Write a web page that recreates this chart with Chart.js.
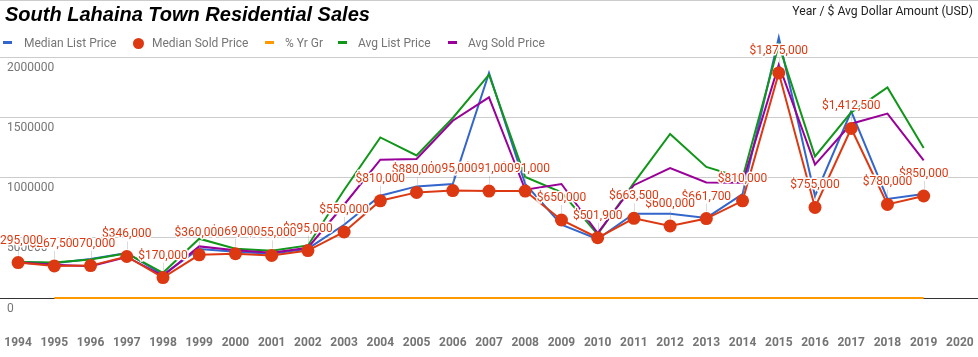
<!DOCTYPE html>
<html>
<head>
<meta charset="utf-8">
<script src="https://cdn.jsdelivr.net/npm/chart.js@4.4.1/dist/chart.umd.min.js"></script>
<style>
  html, body { margin:0; padding:0; background:#fff; }
  #wrap { position:relative; width:978px; height:357px; overflow:hidden; }
  canvas { position:absolute; left:0; top:0; }
  .ov { position:absolute; white-space:nowrap; }
  #title { left:5px; top:3px; font:italic bold 20px "Liberation Sans", Arial, sans-serif; color:#000; }
  #sub { right:5px; top:4px; font:12.2px Roboto, sans-serif; color:#222; }
  .lg { position:absolute; top:36px; font:12px Roboto, sans-serif; color:#757575; line-height:14px; }
  .mk { position:absolute; }
</style>
</head>
<body>
<div id="wrap">
  <canvas id="c" width="978" height="357"></canvas>
  <div id="title" class="ov">South Lahaina Town Residential Sales</div>
  <div id="sub" class="ov">Year / $ Avg Dollar Amount (USD)</div>
  <div id="legend"></div>
</div>
<script>
// ---- data ----
const years = ['1994','1995','1996','1997','1998','1999','2000','2001','2002','2003','2004','2005','2006','2007','2008','2009','2010','2011','2012','2013','2014','2015','2016','2017','2018','2019','2020'];
const medianListPrice = [300000,290000,325000,375000,195000,408000,386000,369000,411000,610000,852000,930000,950000,1875000,950000,611000,490000,702000,702000,667000,865000,2170000,850000,1555000,825000,867000,null];
const medianSoldPrice = [295000,267500,270000,346000,170000,360000,369000,355000,395000,550000,810000,880000,895000,891000,891000,650000,501900,663500,600000,661700,810000,1875000,755000,1412500,780000,850000,null];
const pctYrGr = [null,0,0,0,0,0,0,0,0,0,0,0,0,0,0,0,0,0,0,0,0,0,0,0,0,0,null];
const avgListPrice = [300000,295000,320000,372000,210000,494000,410000,394000,438000,900000,1338000,1188000,1500000,1861000,1008000,880000,530000,960000,1367000,1092000,1000000,2110000,1180000,1547000,1755000,1250000,null];
const avgSoldPrice = [295000,278000,265000,342000,185000,430000,397000,377000,419000,777000,1152000,1158000,1477000,1672000,902000,950000,540000,940000,1083000,963000,960000,1944000,1111000,1452000,1536000,1147000,null];
const yTicks = [0,500000,1000000,1500000,2000000];
const seriesNames = ['Median List Price','Median Sold Price','% Yr Gr','Avg List Price','Avg Sold Price'];
const seriesColors = ['#3366cc','#dc3912','#ff9900','#109618','#990099'];

// ---- legend (HTML) ----
const legendPos = [
  {mk:3, tx:24, type:'line'},
  {mk:132.5, tx:152, type:'dot'},
  {mk:265, tx:285, type:'line'},
  {mk:338, tx:358, type:'line'},
  {mk:448, tx:468, type:'line'}
];
const lg = document.getElementById('legend');
seriesNames.forEach((n,i)=>{
  const p = legendPos[i];
  const m = document.createElement('div');
  m.className='mk';
  if (p.type==='line') {
    m.style.cssText = `left:${p.mk}px;top:41px;width:9px;height:3px;background:${seriesColors[i]};`;
  } else {
    m.style.cssText = `left:${p.mk}px;top:37.5px;width:11px;height:11px;border-radius:50%;background:${seriesColors[i]};`;
  }
  lg.appendChild(m);
  const t = document.createElement('div');
  t.className='lg';
  t.style.left = p.tx+'px';
  t.textContent = n;
  lg.appendChild(t);
});

const fmt = v => '$' + v.toLocaleString('en-US');

const annotPlugin = {
  id:'annot',
  afterDatasetsDraw(chart){
    const ctx = chart.ctx;
    const meta = chart.getDatasetMeta(1);
    ctx.save();
    ctx.strokeStyle = 'rgba(153,153,153,0.35)';
    ctx.lineWidth = 1;
    meta.data.forEach((pt,i)=>{
      const v = medianSoldPrice[i];
      if (v==null) return;
      ctx.beginPath();
      ctx.moveTo(Math.round(pt.x)+0.5, pt.y-7);
      ctx.lineTo(Math.round(pt.x)+0.5, pt.y-15);
      ctx.stroke();
    });
    ctx.font = '12px Roboto, sans-serif';
    ctx.textAlign = 'center';
    ctx.textBaseline = 'middle';
    for (let i = meta.data.length - 1; i >= 0; i--) {
      const pt = meta.data[i];
      const v = medianSoldPrice[i];
      if (v==null) continue;
      const s = fmt(v);
      ctx.lineWidth = 3;
      ctx.lineJoin = 'round';
      ctx.strokeStyle = '#ffffff';
      ctx.strokeText(s, pt.x, pt.y-22);
      ctx.fillStyle = '#dc3912';
      ctx.fillText(s, pt.x, pt.y-22);
    }
    ctx.restore();
  }
};

const YMAX = 2483000;
function zeroPad(s){ s.paddingLeft = 0; s.paddingRight = 0; s.paddingTop = 0; s.paddingBottom = 0; }

new Chart(document.getElementById('c'), {
  type:'line',
  data:{
    labels: years,
    datasets:[
      {label:seriesNames[0], data:medianListPrice, borderColor:seriesColors[0], backgroundColor:seriesColors[0], borderWidth:2, pointRadius:0, order:5, tension:0, clip:8},
      {label:seriesNames[1], data:medianSoldPrice, borderColor:seriesColors[1], backgroundColor:seriesColors[1], borderWidth:2, pointRadius:6.5, pointBorderWidth:0, pointBackgroundColor:seriesColors[1], order:1, tension:0, clip:8},
      {label:seriesNames[2], data:pctYrGr, borderColor:seriesColors[2], backgroundColor:seriesColors[2], borderWidth:2, pointRadius:0, order:2, tension:0, clip:8},
      {label:seriesNames[3], data:avgListPrice, borderColor:seriesColors[3], backgroundColor:seriesColors[3], borderWidth:2, pointRadius:0, order:4, tension:0, clip:8},
      {label:seriesNames[4], data:avgSoldPrice, borderColor:seriesColors[4], backgroundColor:seriesColors[4], borderWidth:2, pointRadius:0, order:3, tension:0, clip:8}
    ]
  },
  options:{
    responsive:false,
    animation:false,
    layout:{padding:0, autoPadding:false},
    plugins:{legend:{display:false}, title:{display:false}, tooltip:{enabled:false}},
    scales:{
      x:{
        type:'category', offset:true,
        grid:{display:false, drawTicks:false},
        border:{display:false},
        ticks:{padding:38, autoSkip:false, maxRotation:0, color:'#757575', font:{family:'Roboto', size:12, weight:'bold'}},
        afterFit(s){ s.height = 59; zeroPad(s); }
      },
      y:{
        min:0, max:YMAX,
        afterBuildTicks(s){ s.ticks = yTicks.concat([YMAX]).map(v=>({value:v})); },
        grid:{drawTicks:false, color:c => (c.tick && c.tick.value===0) ? '#333333' : '#cccccc', lineWidth:1},
        border:{display:false},
        ticks:{mirror:true, padding:7, labelOffset:10.5, color:'#757575', font:{family:'Roboto', size:12},
          callback:(v)=> yTicks.includes(v) ? String(v) : ''},
        afterFit(s){ s.width = 0; zeroPad(s); }
      }
    }
  },
  plugins:[annotPlugin]
});
</script>
</body>
</html>
